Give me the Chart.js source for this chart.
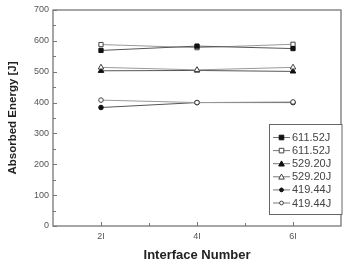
<!DOCTYPE html>
<html>
<head>
<meta charset="utf-8">
<script src="https://cdn.jsdelivr.net/npm/chart.js@4/dist/chart.umd.min.js"></script>
<style>
  body { margin: 0; background: #fff; }
  #wrap { width: 346px; height: 263px; }
</style>
</head>
<body>
<div id="wrap"><canvas id="energyChart" width="346" height="263"></canvas></div>
<script>
// interface number (x) and absorbed energy [J]
const interfaces = [2, 4, 6];
const seriesLabels = ["611.52J", "611.52J", "529.20J", "529.20J", "419.44J", "419.44J"];
const sq611Filled = [569, 583, 575];
const sq611Open = [588, 578, 589];
const tri529Filled = [503, 504, 501];
const tri529Open = [514, 506, 514];
const circ419Filled = [384, 400, 400];
const circ419Open = [408, 400, 402];
const yMinorTicks = [50, 150, 250, 350, 450, 550, 650];
const xMinorTicks = [3, 5];

const FONT = "'Liberation Sans', Arial, sans-serif";

const makeSet = (label, values, shape, filled, radius) => ({
  label,
  data: values.map((v, i) => ({ x: interfaces[i], y: v })),
  borderColor: filled ? "#555" : "#999",
  borderWidth: 1,
  pointStyle: shape,
  pointRadius: radius,
  pointBackgroundColor: filled ? "#111" : "#fff",
  pointBorderColor: filled ? "#111" : "#444",
  pointBorderWidth: 1,
  tension: 0,
  fill: false,
});

// Chart.js paints dataset 0 last (on top)
const datasets = [
  makeSet(seriesLabels[0], sq611Filled, "rect", true, 3),
  makeSet(seriesLabels[1], sq611Open, "rect", false, 3),
  makeSet(seriesLabels[3], tri529Open, "triangle", false, 3.2),
  makeSet(seriesLabels[2], tri529Filled, "triangle", true, 3.2),
  makeSet(seriesLabels[5], circ419Open, "circle", false, 2.3),
  makeSet(seriesLabels[4], circ419Filled, "circle", true, 2.3),
];
const legendOrder = [0, 1, 3, 2, 5, 4];

// frame + inward tick marks
const frame = {
  id: "frame",
  afterDraw(chart) {
    const { ctx, chartArea: a, scales } = chart;
    ctx.save();
    ctx.strokeStyle = "#777";
    ctx.lineWidth = 1.3;
    ctx.strokeRect(a.left, a.top, a.right - a.left, a.bottom - a.top);
    ctx.lineWidth = 1;
    ctx.beginPath();
    scales.y.ticks.forEach(t => {
      const y = Math.round(scales.y.getPixelForValue(t.value)) + 0.5;
      ctx.moveTo(a.left, y); ctx.lineTo(a.left + 4, y);
    });
    yMinorTicks.forEach(v => {
      const y = Math.round(scales.y.getPixelForValue(v)) + 0.5;
      ctx.moveTo(a.left, y); ctx.lineTo(a.left + 3, y);
    });
    interfaces.forEach(v => {
      const x = Math.round(scales.x.getPixelForValue(v)) + 0.5;
      ctx.moveTo(x, a.bottom); ctx.lineTo(x, a.bottom - 4);
    });
    xMinorTicks.forEach(v => {
      const x = Math.round(scales.x.getPixelForValue(v)) + 0.5;
      ctx.moveTo(x, a.bottom); ctx.lineTo(x, a.bottom - 3);
    });
    ctx.stroke();
    ctx.restore();
  },
};

// legend box in the lower right, line-marker-line style
const boxLegend = {
  id: "boxLegend",
  afterDraw(chart) {
    const { ctx } = chart;
    const x0 = 269.5, y0 = 124.5, w = 72.5, h = 90;
    ctx.save();
    ctx.fillStyle = "#fff";
    ctx.fillRect(x0, y0, w, h);
    ctx.strokeStyle = "#666";
    ctx.lineWidth = 1;
    ctx.strokeRect(x0, y0, w, h);
    ctx.font = "11px " + FONT;
    ctx.textBaseline = "middle";
    legendOrder.forEach((di, i) => {
      const ds = chart.data.datasets[di];
      const y = 137.5 + i * 13.1;
      ctx.strokeStyle = "#777";
      ctx.beginPath();
      ctx.moveTo(273, y); ctx.lineTo(290, y);
      ctx.stroke();
      ctx.fillStyle = ds.pointBackgroundColor;
      ctx.strokeStyle = ds.pointBorderColor;
      const mx = 281.5, r = ds.pointStyle === "circle" ? 1.9 : 2.3;
      ctx.beginPath();
      if (ds.pointStyle === "rect") {
        ctx.rect(mx - r, y - r, 2 * r, 2 * r);
      } else if (ds.pointStyle === "triangle") {
        ctx.moveTo(mx, y - r - 0.5); ctx.lineTo(mx + r + 0.5, y + r); ctx.lineTo(mx - r - 0.5, y + r); ctx.closePath();
      } else {
        ctx.arc(mx, y, r, 0, Math.PI * 2);
      }
      ctx.fill(); ctx.stroke();
      ctx.fillStyle = "#444";
      ctx.fillText(ds.label, 292, y + 0.5);
    });
    ctx.restore();
  },
};

new Chart(document.getElementById("energyChart").getContext("2d"), {
  type: "line",
  data: { datasets },
  options: {
    responsive: false,
    animation: false,
    devicePixelRatio: 1,
    layout: { padding: { top: 10, right: 2, left: 0, bottom: 0 } },
    plugins: { legend: { display: false }, tooltip: { enabled: false } },
    scales: {
      x: {
        type: "linear",
        min: 1,
        max: 7,
        grid: { display: false, drawTicks: false },
        border: { display: false },
        afterFit: s => { s.height = 37; },
        ticks: {
          stepSize: 1,
          padding: 5,
          color: "#555",
          font: { family: FONT, size: 9 },
          callback: v => (interfaces.includes(v) ? v + "I" : ""),
        },
        title: {
          display: true,
          text: "Interface Number",
          color: "#222",
          padding: { top: 0, bottom: 0 },
          font: { family: FONT, size: 13, weight: "bold" },
        },
      },
      y: {
        min: 0,
        max: 700,
        grid: { display: false, drawTicks: false },
        border: { display: false },
        afterFit: s => { s.width = 53; },
        ticks: {
          stepSize: 100,
          padding: 4,
          color: "#555",
          font: { family: FONT, size: 9 },
        },
        title: {
          display: true,
          text: "Absorbed Energy [J]",
          color: "#222",
          padding: { top: 6, bottom: 0 },
          font: { family: FONT, size: 11.5, weight: "bold" },
        },
      },
    },
  },
  plugins: [frame, boxLegend],
});
</script>
</body>
</html>
